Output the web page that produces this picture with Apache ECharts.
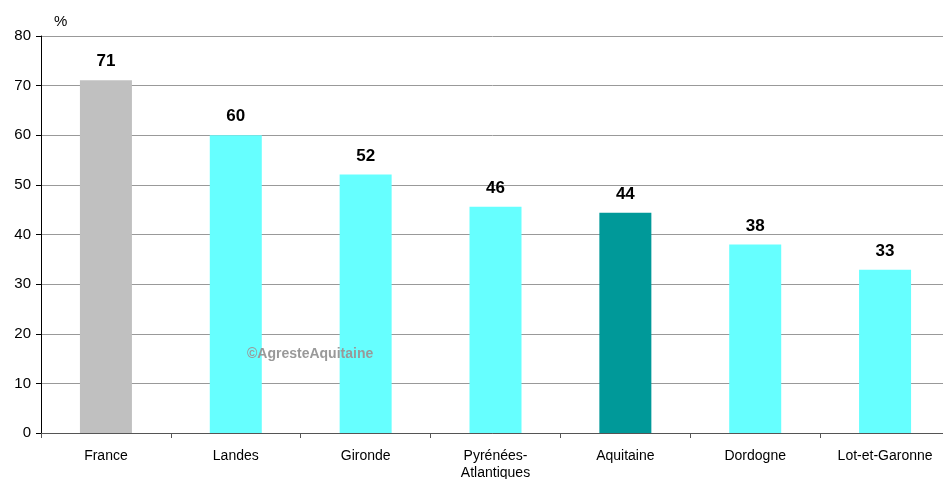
<!DOCTYPE html>
<html>
<head>
<meta charset="utf-8">
<script src="https://cdn.jsdelivr.net/npm/echarts@6/dist/echarts.min.js"></script>
<style>
  html, body { margin: 0; padding: 0; background: #fff; }
  #chart { width: 943px; height: 479px; }
</style>
</head>
<body>
<div id="chart"></div>
<script>
// données
const categories = ['France', 'Landes', 'Gironde', 'Pyrénées-\nAtlantiques', 'Aquitaine', 'Dordogne', 'Lot-et-Garonne'];
const valeurs = [71.1, 60.0, 52.1, 45.6, 44.4, 38.0, 32.9];
const couleurs = ['#c0c0c0', '#66ffff', '#66ffff', '#66ffff', '#009999', '#66ffff', '#66ffff'];

const chart = echarts.init(document.getElementById('chart'));

chart.setOption({
  animation: false,
  textStyle: { fontFamily: 'Liberation Sans, Arial, sans-serif' },
  grid: { left: 41, right: -7, top: 36, bottom: 46, containLabel: false, outerBoundsMode: 'none' },
  graphic: [
    { type: 'text', left: 54, top: 14, z: 100, style: { text: '%', fontSize: 15, fill: '#000', fontFamily: 'Liberation Sans' } },
    { type: 'text', left: 247, top: 347, z: 100, style: { text: '©AgresteAquitaine', fontSize: 14, fontWeight: 'bold', fill: '#999', fontFamily: 'Liberation Sans' } }
  ],
  xAxis: {
    type: 'category',
    data: categories,
    axisLine: { lineStyle: { color: '#555', width: 1 } },
    axisTick: { show: true, alignWithLabel: false, length: 5, lineStyle: { color: '#555' } },
    axisLabel: { color: '#000', fontSize: 14, margin: 15, lineHeight: 17, interval: 0 }
  },
  yAxis: {
    type: 'value',
    min: 0,
    max: 80,
    interval: 10,
    axisLine: { show: true, lineStyle: { color: '#000', width: 1 } },
    axisTick: { show: true, length: 5, lineStyle: { color: '#000' } },
    axisLabel: { color: '#000', fontSize: 15, margin: 10 },
    splitLine: { lineStyle: { color: '#999', width: 1 } }
  },
  series: [{
    type: 'bar',
    data: valeurs.map((v, i) => ({ value: v, itemStyle: { color: couleurs[i] } })),
    barWidth: 52,
    label: {
      show: true,
      position: 'top',
      distance: 10,
      fontSize: 17,
      fontWeight: 'bold',
      color: '#000',
      formatter: p => Math.round(p.value)
    }
  }]
});
</script>
</body>
</html>
